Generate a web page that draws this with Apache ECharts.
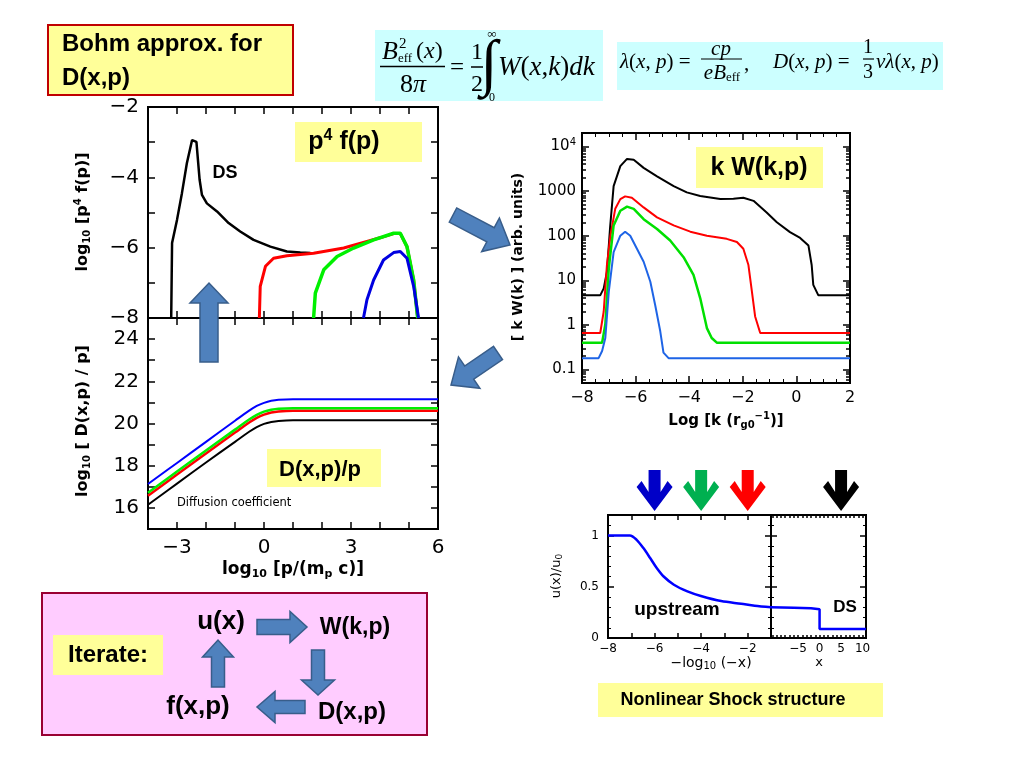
<!DOCTYPE html>
<html><head><meta charset="utf-8">
<script src="https://cdn.jsdelivr.net/npm/echarts@6/dist/echarts.min.js"></script>
<style>html,body{margin:0;padding:0;background:#fff}#c{width:1024px;height:768px}</style>
</head><body><div id="c"></div>
<script>
// ---------- data: log10 p^4 f(p) vs log10 p ----------
const pfBlack = [[-3.20,-8.0],[-3.17,-5.87],[-3.00,-5.21],[-2.83,-4.45],[-2.66,-3.60],[-2.48,-2.94],[-2.33,-2.99],[-2.22,-4.07],[-2.14,-4.50],[-1.97,-4.74],[-1.62,-4.97],[-1.22,-5.30],[-0.82,-5.54],[-0.36,-5.78],[0.22,-5.97],[0.79,-6.11],[1.25,-6.14],[1.60,-6.15]];
const pfRed = [[-0.16,-8.0],[-0.13,-7.10],[0.05,-6.53],[0.33,-6.30],[0.79,-6.23],[1.71,-6.16],[2.75,-6.01],[3.55,-5.82],[4.00,-5.72],[4.47,-5.60],[4.70,-5.60],[4.93,-5.97],[5.16,-6.92],[5.30,-8.0]];
const pfGreen = [[1.71,-8.0],[1.77,-7.29],[2.06,-6.63],[2.52,-6.25],[3.09,-6.01],[3.78,-5.78],[4.47,-5.59],[4.70,-5.59],[4.93,-5.97],[5.16,-6.92],[5.30,-8.0]];
const pfBlue = [[3.43,-8.0],[3.55,-7.48],[3.78,-6.92],[4.12,-6.35],[4.47,-6.14],[4.70,-6.11],[4.93,-6.30],[5.16,-7.10],[5.33,-8.0]];
// ---------- data: log10 D(x,p)/p ----------
const dBlack = [[-4,16.15],[-3,17.15],[-2,18.15],[-1,19.13],[-0.5,19.62],[-0.25,19.83],[0,19.98],[0.25,20.07],[0.5,20.12],[1,20.15],[6,20.15]];
const dRed = [[-4,16.58],[-3,17.58],[-2,18.58],[-1,19.57],[-0.5,20.06],[-0.25,20.27],[0,20.42],[0.25,20.52],[0.5,20.57],[1,20.6],[6,20.6]];
const dGreen = [[-4,16.72],[-3,17.72],[-2,18.72],[-1,19.71],[-0.5,20.2],[-0.25,20.41],[0,20.56],[0.25,20.65],[0.5,20.7],[1,20.72],[6,20.72]];
const dBlue = [[-4,17.13],[-3,18.13],[-2,19.13],[-1,20.13],[-0.5,20.62],[-0.25,20.83],[0,20.98],[0.25,21.08],[0.5,21.13],[1,21.15],[6,21.15]];
// ---------- data: k W(k,p) vs log k ----------
const kwBlack = [[-8,4.6],[-7.32,4.6],[-7.19,6.6],[-7.07,15.5],[-6.95,158],[-6.82,1290],[-6.57,3630],[-6.32,5250],[-6.07,5010],[-5.70,3310],[-5.20,2140],[-4.58,1290],[-4.09,933],[-3.59,776],[-2.84,661],[-2.35,676],[-1.98,708],[-1.60,603],[-1.11,331],[-0.73,200],[-0.24,120],[0.14,89],[0.45,60],[0.57,22],[0.63,7.9],[0.82,4.6],[2,4.6]];
const kwRed = [[-8,0.66],[-7.32,0.66],[-7.19,2.0],[-7.07,22],[-6.94,100],[-6.76,400],[-6.57,660],[-6.39,760],[-6.14,710],[-5.70,430],[-5.20,257],[-4.58,170],[-3.96,123],[-3.34,100],[-2.60,85],[-2.22,72],[-1.98,51],[-1.79,22],[-1.66,5.6],[-1.54,1.55],[-1.35,0.66],[2,0.66]];
const kwGreen = [[-8,0.40],[-7.25,0.40],[-7.13,1.02],[-7.0,18.6],[-6.82,170],[-6.57,363],[-6.32,447],[-6.07,398],[-5.70,234],[-5.20,141],[-4.71,78],[-4.21,33],[-3.84,13.2],[-3.59,4.0],[-3.34,0.85],[-3.16,0.51],[-2.97,0.40],[2,0.40]];
const kwBlue = [[-8,0.18],[-7.38,0.18],[-7.25,0.26],[-7.13,0.51],[-7.0,5.6],[-6.82,43],[-6.57,100],[-6.39,123],[-6.20,100],[-5.95,51],[-5.70,26],[-5.45,9.3],[-5.27,2.8],[-5.08,0.72],[-4.96,0.24],[-4.77,0.18],[2,0.18]];
// ---------- data: shock structure u(x)/u0 ----------
const uUpstream = [[-8,1.0],[-7.06,1.0],[-6.77,0.958],[-6.48,0.877],[-6.19,0.78],[-5.90,0.68],[-5.61,0.60],[-5.17,0.52],[-4.59,0.455],[-4.01,0.41],[-3.14,0.36],[-2.28,0.334],[-1.70,0.315],[-1.0,0.30]];
const uDownstream = [[-11.3,0.30],[-6,0.295],[-2,0.29],[0,0.28],[0,0.088],[10.8,0.088]];
// tick label sets
const shockXLabels = [-5,0,5,10];
const markerX = [{axis:6, v:-6, c:'#0000C8'},{axis:6, v:-4, c:'#00B050'},{axis:6, v:-2, c:'#FF0000'},{axis:8, v:5, c:'#000000'}];

const AXF = 'DejaVu Sans';
const BF = 'Liberation Sans';
const SF = 'Liberation Serif';
const minus = v => String(v).replace('-', '\u2212');
const tick = (len) => ({show:true, inside:true, length:len, lineStyle:{color:'#000', width:1.5}});
const noLine = {show:false, onZero:false};
const noSplit = {show:false};

function ax(grid, pos, extra) {
  return Object.assign({gridIndex:grid, type:'value', position:pos, axisLine:noLine, splitLine:noSplit,
    axisTick:tick(7), axisLabel:{show:false}}, extra || {});
}
function lbl(size, fmt, extra) {
  return Object.assign({show:true, fontFamily:AXF, fontSize:size, color:'#000', formatter:fmt, margin:8}, extra||{});
}
const evenFmt = v => (Math.round(v) % 2 === 0 ? minus(v) : '');

// minor log ticks for kW plot
const logMinor = [];
for (let d = -2; d <= 4; d++) for (let m = 2; m <= 9; m++) { const v = m * Math.pow(10, d); if (v > 0.05 && v < 20000) logMinor.push(v); }
const shockMinorTicks = [];
for (let i = -11; i <= 10; i++) shockMinorTicks.push(i);

const gridStyle = {show:true, borderColor:'#000', borderWidth:2, backgroundColor:'transparent'};
const minorT = {show:true, splitNumber:5, length:3, lineStyle:{color:'#000',width:1}};
const xAxis = [
  ax(0,'bottom',{min:-4,max:6,interval:1}),
  ax(0,'top',{min:-4,max:6,interval:1}),
  ax(1,'bottom',{min:-4,max:6,interval:1, axisLabel:lbl(20, v => (Math.round(v)%3===0 ? minus(v) : ''), {margin:9})}),
  ax(1,'top',{min:-4,max:6,interval:1}),
  ax(2,'bottom',{min:-8,max:2,interval:2, minorTick:{show:true, splitNumber:4, length:4, lineStyle:{color:'#000',width:1}}, axisLabel:lbl(16, v => minus(v), {margin:7})}),
  ax(2,'top',{min:-8,max:2,interval:2, minorTick:{show:true, splitNumber:4, length:4, lineStyle:{color:'#000',width:1}}}),
  ax(3,'bottom',{min:-8,max:-1,interval:1, axisTick:tick(5), axisLabel:lbl(12, evenFmt, {margin:5})}),
  ax(3,'top',{min:-8,max:-1,interval:1, axisTick:tick(5)}),
  ax(4,'bottom',{min:-11.3,max:10.8, axisTick:Object.assign(tick(3),{customValues:shockMinorTicks}), axisLabel:lbl(12, v => minus(v), {margin:5, customValues:shockXLabels})}),
  ax(4,'top',{min:-11.3,max:10.8, axisTick:Object.assign(tick(3),{customValues:shockMinorTicks})})
];
const yAxis = [
  ax(0,'left',{min:-8,max:-2,interval:1, axisLabel:lbl(20, evenFmt, {margin:9, showMinLabel:true, showMaxLabel:true})}),
  ax(0,'right',{min:-8,max:-2,interval:1}),
  ax(1,'left',{min:15,max:25,interval:1, axisLabel:lbl(20, evenFmt, {margin:9})}),
  ax(1,'right',{min:15,max:25,interval:1}),
  ax(2,'left',{type:'log', logBase:10, min:0.05, max:20000, axisLabel:lbl(15, v => (v >= 9999 && v < 10001 ? '10{s|4}' : String(+v.toPrecision(3))), {margin:6, showMinLabel:false, showMaxLabel:false, rich:{s:{fontFamily:AXF, fontSize:10, padding:[0,0,9,0], color:'#000'}}})}),
  ax(2,'right',{type:'log', logBase:10, min:0.05, max:20000}),
  ax(2,'left',{min:0.05, max:20000, type:'log', logBase:10, axisTick:Object.assign(tick(4),{customValues:logMinor})}),
  ax(2,'right',{min:0.05, max:20000, type:'log', logBase:10, axisTick:Object.assign(tick(4),{customValues:logMinor})}),
  ax(3,'left',{min:0,max:1.2,interval:0.5, axisTick:tick(6), minorTick:minorT, axisLabel:lbl(12, v => (v===0?'0':v===0.5?'0.5':v===1?'1':''), {margin:9})}),
  ax(3,'right',{min:0,max:1.2,interval:0.5, axisTick:tick(6), minorTick:minorT}),
  ax(4,'left',{min:0,max:1.2,interval:0.5, axisTick:tick(6), minorTick:minorT}),
  ax(4,'right',{min:0,max:1.2,interval:0.5, axisTick:tick(6), minorTick:minorT})
];

function line(data, color, xi, yi, w, extra) {
  return Object.assign({type:'line', data, xAxisIndex:xi, yAxisIndex:yi, showSymbol:false, symbol:'none',
    lineStyle:{color, width:w}, itemStyle:{color}, z:5, animation:false}, extra||{});
}

const option = {
  backgroundColor:'#ffffff',
  animation:false,
  grid:[
    Object.assign({left:148, top:107, width:290, height:211}, gridStyle),
    Object.assign({left:148, top:318, width:290, height:211}, gridStyle),
    Object.assign({left:582, top:133, width:268, height:250}, gridStyle),
    Object.assign({left:608, top:515, width:163, height:123}, gridStyle),
    Object.assign({left:771, top:515, width:95, height:123}, gridStyle)
  ],
  xAxis, yAxis,
  series:[
    line(pfBlack,'#000000',0,0,2.5),
    line(pfRed,'#FF0000',0,0,3),
    line(pfGreen,'#00F000',0,0,3.5),
    line(pfBlue,'#0000E0',0,0,3),
    line(dBlack,'#000000',2,2,2,{smooth:0.4}),
    line(dRed,'#FF0000',2,2,2.5,{smooth:0.4}),
    line(dGreen,'#00F000',2,2,2.5,{smooth:0.4}),
    line(dBlue,'#0000FF',2,2,2,{smooth:0.4}),
    line(kwBlack,'#000000',4,4,2),
    line(kwRed,'#FF0000',4,4,2),
    line(kwGreen,'#00E000',4,4,2.5),
    line(kwBlue,'#1E64E6',4,4,2),
    line(uUpstream,'#0000FF',6,8,2.5,{smooth:0.3}),
    line(uDownstream,'#0000FF',8,10,2.5)
  ]
};

const chart = echarts.init(document.getElementById('c'));
chart.setOption(option);

// ---------- annotations ----------
function T(x, y, text, o) {
  o = o || {};
  return {type:'text', x, y, rotation:o.rot||0, z:200,
    style:{text, fill:o.color||'#000', fontFamily:o.ff||BF, fontSize:o.fs||16, fontWeight:o.fw||'normal', fontStyle:o.fst||'normal',
      align:o.al||'center', verticalAlign:'middle', rich:o.rich}};
}
function R(x, y, w, h, fill, stroke, lw) {
  return {type:'rect', z:150, shape:{x, y, width:w, height:h}, style:{fill, stroke:stroke||null, lineWidth:lw||0}};
}
function L(x1, y1, x2, y2, w) {
  return {type:'line', z:200, shape:{x1, y1, x2, y2}, style:{stroke:'#000', lineWidth:w||1.3}};
}
function blockArrow(x1, y1, x2, y2, bw, hw, hl) {
  const dx = x2-x1, dy = y2-y1, len = Math.hypot(dx,dy), ux = dx/len, uy = dy/len, nx = -uy, ny = ux;
  const bx = x2 - ux*hl, by = y2 - uy*hl;
  const P = (px,py,s) => [px + nx*s, py + ny*s];
  const pts = [P(x1,y1,bw/2), P(bx,by,bw/2), P(bx,by,hw/2), [x2,y2], P(bx,by,-hw/2), P(bx,by,-bw/2), P(x1,y1,-bw/2)];
  return {type:'polygon', z:180, shape:{points:pts}, style:{fill:'#4F81BD', stroke:'#385D8A', lineWidth:1.5}};
}
function downMarker(cx, color) {
  const pts = [[cx-6,470],[cx+6,470],[cx+6,492],[cx+13,481],[cx+18,487],[cx,511],[cx-18,487],[cx-13,481],[cx-6,492]];
  return {type:'polygon', z:180, shape:{points:pts}, style:{fill:color}};
}

const ital = (fs) => ({fontFamily:SF, fontStyle:'italic', fontSize:fs, color:'#000'});
const norm = (fs) => ({fontFamily:SF, fontSize:fs, color:'#000'});

const g = [];
// Bohm box
g.push(R(48,25,245,70,'#FFFF99','#C00000',2));
g.push(T(62,44,'Bohm approx. for',{al:'left', fw:'bold', fs:24}));
g.push(T(62,78,'D(x,p)',{al:'left', fw:'bold', fs:24}));
// equation box 1
g.push(R(375,30,228,71,'#CCFFFF'));
g.push(T(382,52,'B',{al:'left', ff:SF, fst:'italic', fs:26}));
g.push(T(399,44,'2',{al:'left', ff:SF, fs:15}));
g.push(T(398,59,'eff',{al:'left', ff:SF, fs:13}));
g.push(T(416,52,'{n|(}{i|x}{n|)}',{al:'left', ff:SF, fs:24, rich:{n:norm(24), i:ital(24)}}));
g.push(L(380,66.5,445,66.5,1.5));
g.push(T(413,85,'{n|8}{i|\u03c0}',{ff:SF, fs:26, rich:{n:norm(26), i:ital(26)}}));
g.push(T(457,68,'=',{ff:SF, fs:25}));
g.push(T(477,53,'1',{ff:SF, fs:24}));
g.push(L(471,67,483,67,1.5));
g.push(T(477,85,'2',{ff:SF, fs:24}));
g.push(T(489,67,'\u222b',{ff:SF, fs:62}));
g.push(T(492,35,'\u221e',{ff:SF, fs:13}));
g.push(T(492,98,'0',{ff:SF, fs:12}));
g.push(T(498,68,'{i|W}{n|(}{i|x}{n|,}{i|k}{n|)}{i|dk}',{al:'left', ff:SF, fs:27, rich:{n:norm(27), i:ital(27)}}));
// equation box 2
g.push(R(617,42,326,48,'#CCFFFF'));
const r2 = {n:norm(21), i:ital(21), s:Object.assign(norm(13),{padding:[9,0,0,0]})};
g.push(T(620,62,'{i|\u03bb}{n|(}{i|x}{n|, }{i|p}{n|) =}',{al:'left', ff:SF, fs:21, rich:r2}));
g.push(T(721,49,'{i|cp}',{ff:SF, fs:21, rich:r2}));
g.push(L(701,59,742,59,1.2));
g.push(T(722,73,'{i|eB}{s|eff}',{ff:SF, fs:21, rich:r2}));
g.push(T(744,64,',',{al:'left', ff:SF, fs:21}));
g.push(T(773,62,'{i|D}{n|(}{i|x}{n|, }{i|p}{n|) =}',{al:'left', ff:SF, fs:21, rich:r2}));
g.push(T(868,48,'1',{ff:SF, fs:20}));
g.push(L(863,59,874,59,1.2));
g.push(T(868,73,'3',{ff:SF, fs:20}));
g.push(T(876,62,'{i|v\u03bb}{n|(}{i|x}{n|, }{i|p}{n|)}',{al:'left', ff:SF, fs:21, rich:r2}));

// left plot axis titles
const rAx = (fs) => ({s:{fontFamily:AXF, fontWeight:'bold', fontSize:Math.round(fs*0.65), padding:[8,0,0,0]}, p:{fontFamily:AXF, fontWeight:'bold', fontSize:Math.round(fs*0.65), padding:[0,0,9,0]}});
g.push(T(83,212,'log{s|10} [p{p|4} f(p)]',{rot:Math.PI/2, ff:AXF, fw:'bold', fs:16, rich:rAx(16)}));
g.push(T(83,421,'log{s|10} [ D(x,p) / p]',{rot:Math.PI/2, ff:AXF, fw:'bold', fs:16, rich:rAx(16)}));
g.push(T(293,570,'log{s|10} [p/(m{s|p} c)]',{ff:AXF, fw:'bold', fs:17, rich:rAx(17)}));
// kW titles
g.push(T(518,257,'[ k W(k) ] (arb. units)',{rot:Math.PI/2, ff:AXF, fw:'bold', fs:14}));
g.push(T(726,421,'Log [k (r{s|g0}{p|\u22121})]',{ff:AXF, fw:'bold', fs:15, rich:rAx(15)}));
// shock titles
g.push(T(557,576,'u(x)/u{s|0}',{rot:Math.PI/2, ff:AXF, fs:13, rich:{s:{fontFamily:AXF, fontSize:9, padding:[6,0,0,0]}}}));
g.push(T(711,663,'\u2212log{s|10} (\u2212x)',{ff:AXF, fs:14, rich:{s:{fontFamily:AXF, fontSize:10, padding:[7,0,0,0]}}}));
g.push(T(819,663,'x',{ff:AXF, fs:13}));

// in-plot labels
g.push(T(225,173,'DS',{fw:'bold', fs:18}));
g.push(R(295,122,127,40,'#FFFF99'));
g.push(T(344,142,'p{p|4} f(p)',{fw:'bold', fs:25, rich:{p:{fontFamily:BF, fontWeight:'bold', fontSize:16, padding:[0,0,12,0]}}}));
g.push(R(267,449,114,38,'#FFFF99'));
g.push(T(320,470,'D(x,p)/p',{fw:'bold', fs:22}));
g.push(T(177,503,'Diffusion coefficient',{al:'left', ff:AXF, fs:11.5}));
g.push(R(696,147,127,41,'#FFFF99'));
g.push(T(759,168,'k W(k,p)',{fw:'bold', fs:25}));
g.push(T(677,610,'upstream',{fw:'bold', fs:19}));
g.push(T(845,607,'DS',{fw:'bold', fs:17}));
g.push(R(598,683,285,34,'#FFFF99'));
g.push(T(733,700,'Nonlinear Shock structure',{fw:'bold', fs:18}));

// iterate box
g.push(R(42,593,385,142,'#FFCCFF','#990033',2));
g.push(R(53,635,110,40,'#FFFF99'));
g.push(T(108,655,'Iterate:',{fw:'bold', fs:24}));
g.push(T(221,622,'u(x)',{fw:'bold', fs:26}));
g.push(T(355,628,'W(k,p)',{fw:'bold', fs:23}));
g.push(T(198,707,'f(x,p)',{fw:'bold', fs:26}));
g.push(T(352,712,'D(x,p)',{fw:'bold', fs:24}));
g.push(blockArrow(257,627,307,627,15,31,17));
g.push(blockArrow(318,650,318,695,13,33,15));
g.push(blockArrow(305,707,257,707,13,31,18));
g.push(blockArrow(218,687,218,640,13,31,17));

// big arrows
g.push(blockArrow(209,362,209,283,18,38,20));
g.push(blockArrow(453,215,510,245,16,38,22));
g.push(blockArrow(498,353,451,385,16,38,22));

// colored position markers above shock plot
markerX.forEach(m => {
  const px = chart.convertToPixel({xAxisIndex:m.axis}, m.v);
  g.push(downMarker(px, m.c));
});

chart.setOption({graphic:g});
</script>
</body></html>
